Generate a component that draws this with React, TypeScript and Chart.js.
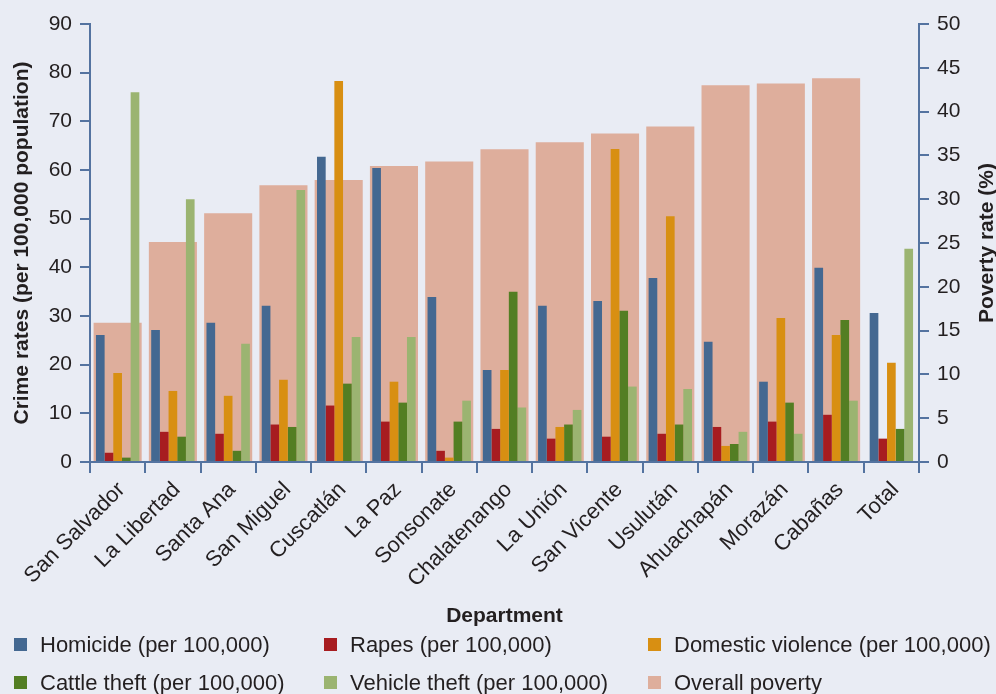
import { useEffect, useRef } from "react";
import { Chart, registerables } from "chart.js";

Chart.register(...registerables);

const departments = [
  "San Salvador", "La Libertad", "Santa Ana", "San Miguel", "Cuscatlán", "La Paz",
  "Sonsonate", "Chalatenango", "La Unión", "San Vicente", "Usulután", "Ahuachapán",
  "Morazán", "Cabañas", "Total",
];
const homicide = [26.1, 27.1, 28.6, 32.1, 62.7, 60.4, 33.9, 18.9, 32.1, 33.1, 37.8, 24.7, 16.5, 39.9, 30.6];
const rapes = [1.9, 6.2, 5.8, 7.7, 11.6, 8.3, 2.3, 6.8, 4.8, 5.2, 5.8, 7.2, 8.3, 9.7, 4.8];
const domesticViolence = [18.3, 14.6, 13.6, 16.9, 78.3, 16.5, 0.9, 18.9, 7.2, 64.3, 50.5, 3.3, 29.6, 26.1, 20.4];
const cattleTheft = [0.9, 5.2, 2.3, 7.2, 16.1, 12.2, 8.3, 35.0, 7.7, 31.1, 7.7, 3.7, 12.2, 29.2, 6.8];
const vehicleTheft = [76.0, 54.0, 24.3, 55.9, 25.7, 25.7, 12.6, 11.2, 10.7, 15.5, 15.0, 6.2, 5.8, 12.6, 43.8];
const overallPoverty = [15.9, 25.1, 28.4, 31.6, 32.2, 33.8, 34.3, 35.7, 36.5, 37.5, 38.3, 43.0, 43.2, 43.8, null];

const crimeAxisMax = 90;
const crimeAxisStep = 10;
const povertyAxisMax = 50;
const povertyAxisStep = 5;

const seriesLabels = [
  "Homicide (per 100,000)",
  "Rapes (per 100,000)",
  "Domestic violence (per 100,000)",
  "Cattle theft (per 100,000)",
  "Vehicle theft (per 100,000)",
  "Overall poverty",
];
const seriesColors = ["#446891", "#a71c20", "#d88f12", "#537e23", "#9bb471", "#deae9c"];

const leftTitle = "Crime rates (per 100,000 population)";
const rightTitle = "Poverty rate (%)";
const xTitle = "Department";

const FONT = '"Liberation Sans", Arial, Helvetica, sans-serif';
const TEXT = "#231f20";
const AXIS = "#5473a0";
const BG = "#e9ecf4";

const overlayPlugin = {
  id: "overlay",
  afterDraw(chart: any) {
    const { ctx, chartArea } = chart;
    const midY = (chartArea.top + chartArea.bottom) / 2;
    const midX = (chartArea.left + chartArea.right) / 2;
    ctx.save();
    ctx.fillStyle = TEXT;
    ctx.font = `bold 21px ${FONT}`;
    ctx.textAlign = "center";
    ctx.textBaseline = "middle";
    // left title
    ctx.save();
    ctx.translate(22, midY);
    ctx.rotate(-Math.PI / 2);
    ctx.fillText(leftTitle, 0, 0);
    ctx.restore();
    // right title
    ctx.save();
    ctx.translate(987, midY);
    ctx.rotate(-Math.PI / 2);
    ctx.fillText(rightTitle, 0, 0);
    ctx.restore();
    // x title
    ctx.textBaseline = "alphabetic";
    ctx.fillText(xTitle, midX, 622);
    // legend
    ctx.font = `22px ${FONT}`;
    ctx.textAlign = "left";
    const colX = [14, 324, 648];
    const rowY = [652, 690];
    seriesLabels.forEach((label, i) => {
      const c = i % 3;
      const r = Math.floor(i / 3);
      ctx.fillStyle = seriesColors[i];
      ctx.fillRect(colX[c], rowY[r] - 14, 13, 13);
      ctx.fillStyle = TEXT;
      ctx.fillText(label, colX[c] + 26, rowY[r]);
    });
    ctx.restore();
  },
};

export default function App() {
  const canvasRef = useRef<HTMLCanvasElement>(null);

  useEffect(() => {
    document.body.style.margin = "0";
    const crimeSeries = [homicide, rapes, domesticViolence, cattleTheft, vehicleTheft];
    const datasets: any[] = crimeSeries.map((data, i) => ({
      label: seriesLabels[i],
      data,
      backgroundColor: seriesColors[i],
      yAxisID: "y",
      categoryPercentage: 0.785,
      barPercentage: 1,
      order: 0,
    }));
    datasets.push({
      label: seriesLabels[5],
      data: overallPoverty,
      backgroundColor: seriesColors[5],
      yAxisID: "y1",
      grouped: false,
      categoryPercentage: 1,
      barPercentage: 0.87,
      order: 1,
    });

    const chart = new Chart(canvasRef.current as HTMLCanvasElement, {
      type: "bar",
      data: { labels: departments, datasets },
      plugins: [overlayPlugin],
      options: {
        animation: false,
        responsive: false,
        maintainAspectRatio: false,
        layout: { padding: { top: 24, left: 0, right: 0, bottom: 0 } },
        plugins: { legend: { display: false }, tooltip: { enabled: false } },
        scales: {
          x: {
            grid: {
              offset: true,
              drawOnChartArea: false,
              drawTicks: true,
              tickLength: 11,
              color: AXIS,
              lineWidth: 2,
            },
            border: { color: AXIS, width: 2 },
            ticks: {
              autoSkip: false,
              maxRotation: 45,
              minRotation: 45,
              padding: 4,
              labelOffset: 4,
              color: TEXT,
              font: { family: FONT, size: 22 },
            },
            afterFit: (s: any) => {
              s.height = 694 - 462;
            },
          },
          y: {
            position: "left",
            min: 0,
            max: crimeAxisMax,
            ticks: { stepSize: crimeAxisStep, padding: 8, color: TEXT, font: { family: FONT, size: 21 } },
            grid: { drawOnChartArea: false, drawTicks: true, tickLength: 10, color: AXIS, lineWidth: 2 },
            border: { color: AXIS, width: 2 },
            afterFit: (s: any) => {
              s.width = 90;
            },
          },
          y1: {
            position: "right",
            min: 0,
            max: povertyAxisMax,
            ticks: { stepSize: povertyAxisStep, padding: 8, color: TEXT, font: { family: FONT, size: 21 } },
            grid: { drawOnChartArea: false, drawTicks: true, tickLength: 10, color: AXIS, lineWidth: 2 },
            border: { color: AXIS, width: 2 },
            afterFit: (s: any) => {
              s.width = 77;
            },
          },
        },
      },
    });
    return () => chart.destroy();
  }, []);

  return (
    <div style={{ width: 996, height: 694, background: BG, position: "relative" }}>
      <canvas ref={canvasRef} width={996} height={694} style={{ display: "block" }} />
    </div>
  );
}
